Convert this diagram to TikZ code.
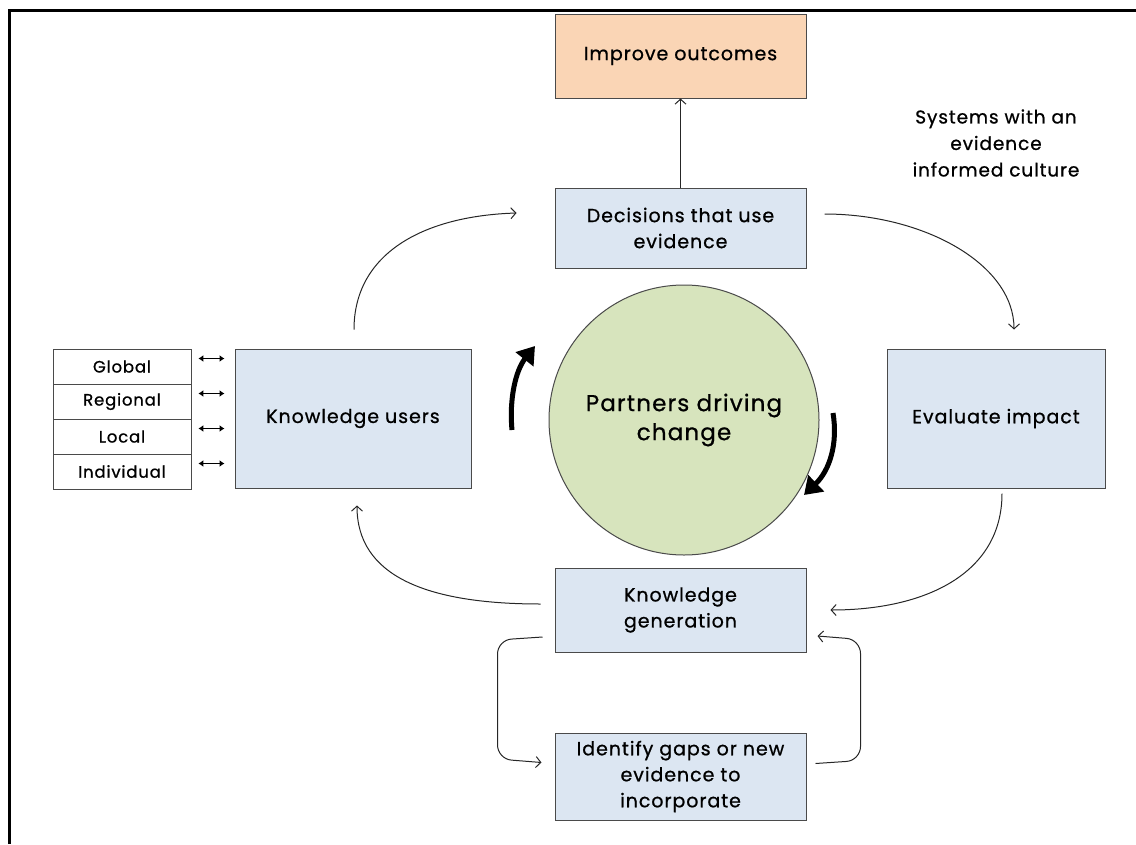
\documentclass[tikz,border=0pt]{standalone}
\usepackage{fontspec}
\setmainfont{Poppins}[LetterSpace=5,FakeBold=0.8]
\usetikzlibrary{arrows.meta,calc}
\definecolor{boxfill}{HTML}{DCE6F2}
\definecolor{orfill}{HTML}{FAD5B5}
\definecolor{grfill}{HTML}{D7E4BD}
\definecolor{edge}{HTML}{4A4A4A}
\tikzset{
  box/.style={draw=edge, line width=1pt, fill=boxfill, rectangle, align=center, inner sep=2pt, font=\fontsize{19}{26}\selectfont},
  cell/.style={draw=edge, line width=0.8pt, fill=white, rectangle, minimum width=138pt, minimum height=35pt, inner sep=0pt, font=\fontsize{16.5}{20}\selectfont},
  thinarrow/.style={draw=black!85, line width=1pt, -{Straight Barb[length=5pt,width=11pt]}},
  dblarrow/.style={line width=1.6pt, {Latex[length=5pt,width=7pt]}-{Latex[length=5pt,width=7pt]}},
  thickarrow/.style={line width=5pt, -{Triangle[length=17pt,width=22pt]}},
}
\begin{document}
\begin{tikzpicture}[x=1pt,y=-1pt]
\useasboundingbox (0,0) rectangle (1136,844);
% frame
\draw[line width=3pt] (9,844) -- (9,10) -- (1136,10);
% nodes
\node[box, fill=orfill, minimum width=251pt, minimum height=84pt] (improve) at (680.5,56) {Improve outcomes};
\node[box, minimum width=251pt, minimum height=80pt] (decisions) at (680.5,228) {Decisions that use\\evidence};
\node[box, minimum width=218pt, minimum height=139pt] (evaluate) at (996,418.5) {Evaluate impact};
\node[box, minimum width=236pt, minimum height=139pt] (users) at (353,418.5) {Knowledge users};
\node[box, minimum width=251pt, minimum height=84pt] (kgen) at (680.5,610) {Knowledge\\generation};
\node[box, minimum width=251pt, minimum height=87pt] (gaps) at (680.5,776.5) {Identify gaps or new\\evidence to\\incorporate};
\node[circle, draw=edge, line width=1pt, fill=grfill, minimum size=270pt, align=center, font=\fontsize{23}{29}\selectfont] (partners) at (684,420) {Partners driving\\change};
\node[align=center, font=\fontsize{18.5}{26.5}\selectfont] (systems) at (996,143) {Systems with an\\evidence\\informed culture};
% table
\node[cell] (t1) at (122,366.5) {Global};
\node[cell] (t2) at (122,401.5) {Regional};
\node[cell] (t3) at (122,436.5) {Local};
\node[cell] (t4) at (122,471.5) {Individual};
\foreach \t in {t1,t2,t3,t4}{
  \draw[dblarrow] ($(\t.east)+(7,-8)$) -- ($(users.west |- \t.east)+(-10,-8)$);
}
% connectors
\draw[thinarrow] (decisions.north) -- (improve.south);
\draw[thinarrow] ($(users.north)+(1,-19)$) .. controls +(0,-75) and +(-95,3) .. ($(decisions.west)+(-38,-15)$);
\draw[thinarrow] ($(decisions.east)+(18,-14)$) .. controls +(100,0) and +(0,-65) .. ($(evaluate.north)+(18,-19)$);
\draw[thinarrow] ($(evaluate.south)+(6,5)$) .. controls +(0,80) and +(95,0) .. ($(kgen.east)+(24,0)$);
\draw[thinarrow] ($(kgen.west)+(-14,-6)$) .. controls +(-115,0) and +(0,70) .. ($(users.south)+(4,17)$);
\draw[thinarrow, rounded corners=14pt] ($(kgen.west)+(-12,27)$) -- ++(-45,3) -- ++(0,119) -- ($(gaps.west)+(-13,-14)$);
\draw[thinarrow, rounded corners=14pt] ($(gaps.east)+(9,-13)$) -- ++(45,-3) -- ++(0,-121) -- ($(kgen.east)+(11,26)$);
% thick arrows
\coordinate (la) at (512,430);
\coordinate (lb) at (535,346);
\coordinate (ra) at (833,413);
\coordinate (rb) at (804,495);
\draw[thickarrow] (la) .. controls (509,398) and (516,370) .. (lb);
\draw[thickarrow] (ra) .. controls (838,443) and (830,470) .. (rb);
\end{tikzpicture}
\end{document}
